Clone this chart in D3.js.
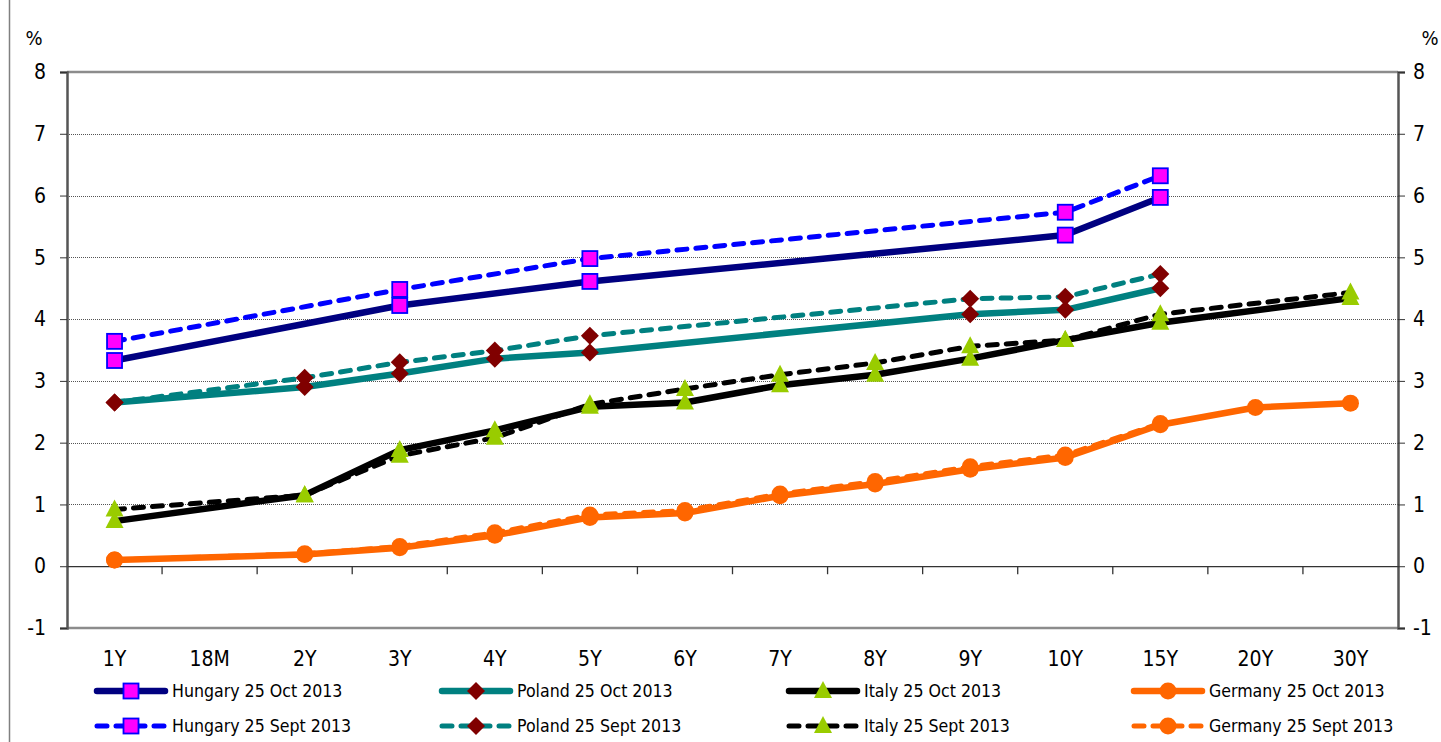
<!DOCTYPE html>
<html><head><meta charset="utf-8">
<script src="https://cdn.jsdelivr.net/npm/d3@7"></script>
<style>
body{margin:0;background:#fff;}
svg{display:block;font-family:'DejaVu Sans Condensed','DejaVu Sans',sans-serif;}
</style></head>
<body><svg id="c" width="1441" height="742"></svg>
<script>
const categories = ["1Y","18M","2Y","3Y","4Y","5Y","6Y","7Y","8Y","9Y","10Y","15Y","20Y","30Y"];
const yTicks = [-1,0,1,2,3,4,5,6,7,8];
const hungaryOct  = [3.33,null,null,4.22,null,4.61,null,null,null,null,5.36,5.97,null,null];
const hungarySept = [3.64,null,null,4.48,null,4.98,null,null,null,null,5.73,6.32,null,null];
const polandOct   = [2.65,null,2.90,3.12,3.36,3.46,null,null,null,4.08,4.15,4.50,null,null];
const polandSept  = [2.65,null,3.05,3.30,3.49,3.73,null,null,null,4.33,4.36,4.73,null,null];
const italyOct    = [0.73,null,1.15,1.88,2.20,2.58,2.65,2.93,3.10,3.36,3.66,3.94,null,4.34];
const italySept   = [0.92,null,1.15,1.79,2.08,2.62,2.87,3.10,3.29,3.56,3.66,4.08,null,4.43];
const germanyOct  = [0.10,null,0.19,0.30,0.50,0.79,0.86,1.14,1.33,1.57,1.76,2.29,2.57,2.64];
const germanySept = [0.10,null,0.20,0.32,0.54,0.83,0.90,1.17,1.37,1.61,1.80,2.31,null,null];

const seriesNames = ["Hungary 25 Oct 2013","Poland 25 Oct 2013","Italy 25 Oct 2013","Germany 25 Oct 2013",
  "Hungary 25 Sept 2013","Poland 25 Sept 2013","Italy 25 Sept 2013","Germany 25 Sept 2013"];
const seriesData = [hungaryOct,polandOct,italyOct,germanyOct,hungarySept,polandSept,italySept,germanySept];
const styles = [
 {color:"#000080",dash:null,marker:"square"},
 {color:"#008080",dash:null,marker:"diamond"},
 {color:"#000000",dash:null,marker:"triangle"},
 {color:"#FF6600",dash:null,marker:"circle"},
 {color:"#0000FF",dash:"10,9",marker:"square"},
 {color:"#008080",dash:"10,9",marker:"diamond"},
 {color:"#000000",dash:"10,9",marker:"triangle"},
 {color:"#FF6600",dash:"10,9",marker:"circle"}
];

const svg = d3.select("#c");
const L=67,R=1398,T=72,B=628;
const x = d3.scaleBand().domain(categories).range([L,R]).paddingInner(0).paddingOuter(0);
const xc = c => x(c)+x.bandwidth()/2;
const y = d3.scaleLinear().domain([-1,8]).range([B,T]);
const fmt = d => String(d);

// frame line
svg.append("line").attr("x1",9.5).attr("x2",9.5).attr("y1",0).attr("y2",742).attr("stroke","#808080").attr("stroke-width",1.5);

// gridlines
svg.append("g").selectAll("line").data(yTicks.filter(v=>v>0&&v<8)).join("line")
 .attr("x1",L).attr("x2",R).attr("y1",d=>Math.round(y(d))+0.5).attr("y2",d=>Math.round(y(d))+0.5)
 .attr("stroke","#555").attr("stroke-width",1).attr("stroke-dasharray","1,1");
svg.append("line").attr("x1",L).attr("x2",R).attr("y1",y(8)).attr("y2",y(8)).attr("stroke","#8c8c8c").attr("stroke-width",2.5);
svg.append("line").attr("x1",L).attr("x2",R).attr("y1",y(-1)).attr("y2",y(-1)).attr("stroke","#8c8c8c").attr("stroke-width",2.5);

// axes
const yl = svg.append("g").attr("transform",`translate(${L},0)`).call(d3.axisLeft(y).tickValues(yTicks).tickSize(7).tickPadding(14).tickFormat(fmt));
const yr = svg.append("g").attr("transform",`translate(${R},0)`).call(d3.axisRight(y).tickValues(yTicks).tickSize(7).tickPadding(8).tickFormat(fmt));
[yl,yr].forEach(g=>{
  g.select(".domain").attr("stroke","#555").attr("stroke-width",2.5);
  g.selectAll(".tick line").attr("stroke","#333");
  g.selectAll("text").attr("font-size",21).attr("fill","#000").attr("font-family","'DejaVu Sans Condensed','DejaVu Sans',sans-serif");
});
const xa = svg.append("g").attr("transform",`translate(0,${y(0)})`).call(d3.axisBottom(x).tickSize(0).tickFormat(""));
xa.select(".domain").attr("stroke","#333").attr("stroke-width",1.3);
svg.append("g").selectAll("line").data(categories.slice(1)).join("line")
 .attr("x1",d=>x(d)).attr("x2",d=>x(d)).attr("y1",y(0)).attr("y2",y(0)+8).attr("stroke","#333").attr("stroke-width",1.3);
svg.append("g").selectAll("text").data(categories).join("text")
 .attr("x",xc).attr("y",666).attr("text-anchor","middle").attr("font-size",21).text(d=>d);

svg.append("text").attr("x",34).attr("y",45).attr("text-anchor","middle").attr("font-size",20).text("%");
svg.append("text").attr("x",1430).attr("y",45).attr("text-anchor","middle").attr("font-size",20).text("%");

// lines
const line = d3.line().x(d=>xc(d.c)).y(d=>y(d.v));
function pts(arr){return categories.map((c,i)=>({c,v:arr[i]})).filter(d=>d.v!=null);}
seriesData.forEach((arr,i)=>{
  const s=styles[i];
  const p=svg.append("path").datum(pts(arr)).attr("d",line).attr("fill","none")
   .attr("stroke",s.color).attr("stroke-linejoin","round");
  if(s.dash){p.attr("stroke-width",5).attr("stroke-dasharray",s.dash).attr("stroke-linecap","round");}
  else p.attr("stroke-width",6.5);
});

function drawMarker(g,type,cx,cy){
  if(type==="square") g.append("rect").attr("x",cx-7.5).attr("y",cy-7.5).attr("width",15).attr("height",15).attr("fill","#FF00FF").attr("stroke","#0000FF").attr("stroke-width",1.8);
  else if(type==="diamond") g.append("path").attr("d",`M${cx},${cy-9}L${cx+9},${cy}L${cx},${cy+9}L${cx-9},${cy}Z`).attr("fill","#800000");
  else if(type==="triangle") g.append("path").attr("d",`M${cx},${cy-10}L${cx+9},${cy+7}L${cx-9},${cy+7}Z`).attr("fill","#99CC00");
  else if(type==="circle") g.append("circle").attr("cx",cx).attr("cy",cy).attr("r",8.5).attr("fill","#FF6600");
}
seriesData.forEach((arr,i)=>{
  const g=svg.append("g");
  pts(arr).forEach(d=>drawMarker(g,styles[i].marker,xc(d.c),y(d.v)));
});

// legend
const legX=[95,440,787,1132], legY=[691,726];
seriesNames.forEach((n,i)=>{
  const col=i%4,row=Math.floor(i/4),s=styles[i];
  const g=svg.append("g");
  const x0=legX[col],yy=legY[row];
  const l=g.append("line").attr("x1",x0+2).attr("x2",x0+70).attr("y1",yy).attr("y2",yy).attr("stroke",s.color);
  if(s.dash) l.attr("stroke-width",5).attr("stroke-dasharray","10,9").attr("stroke-linecap","round");
  else l.attr("stroke-width",6.5).attr("stroke-linecap","round");
  drawMarker(g,s.marker,x0+36,yy);
  g.append("text").attr("x",x0+77).attr("y",yy+6).attr("font-size",17.6).text(n);
});
</script></body></html>
